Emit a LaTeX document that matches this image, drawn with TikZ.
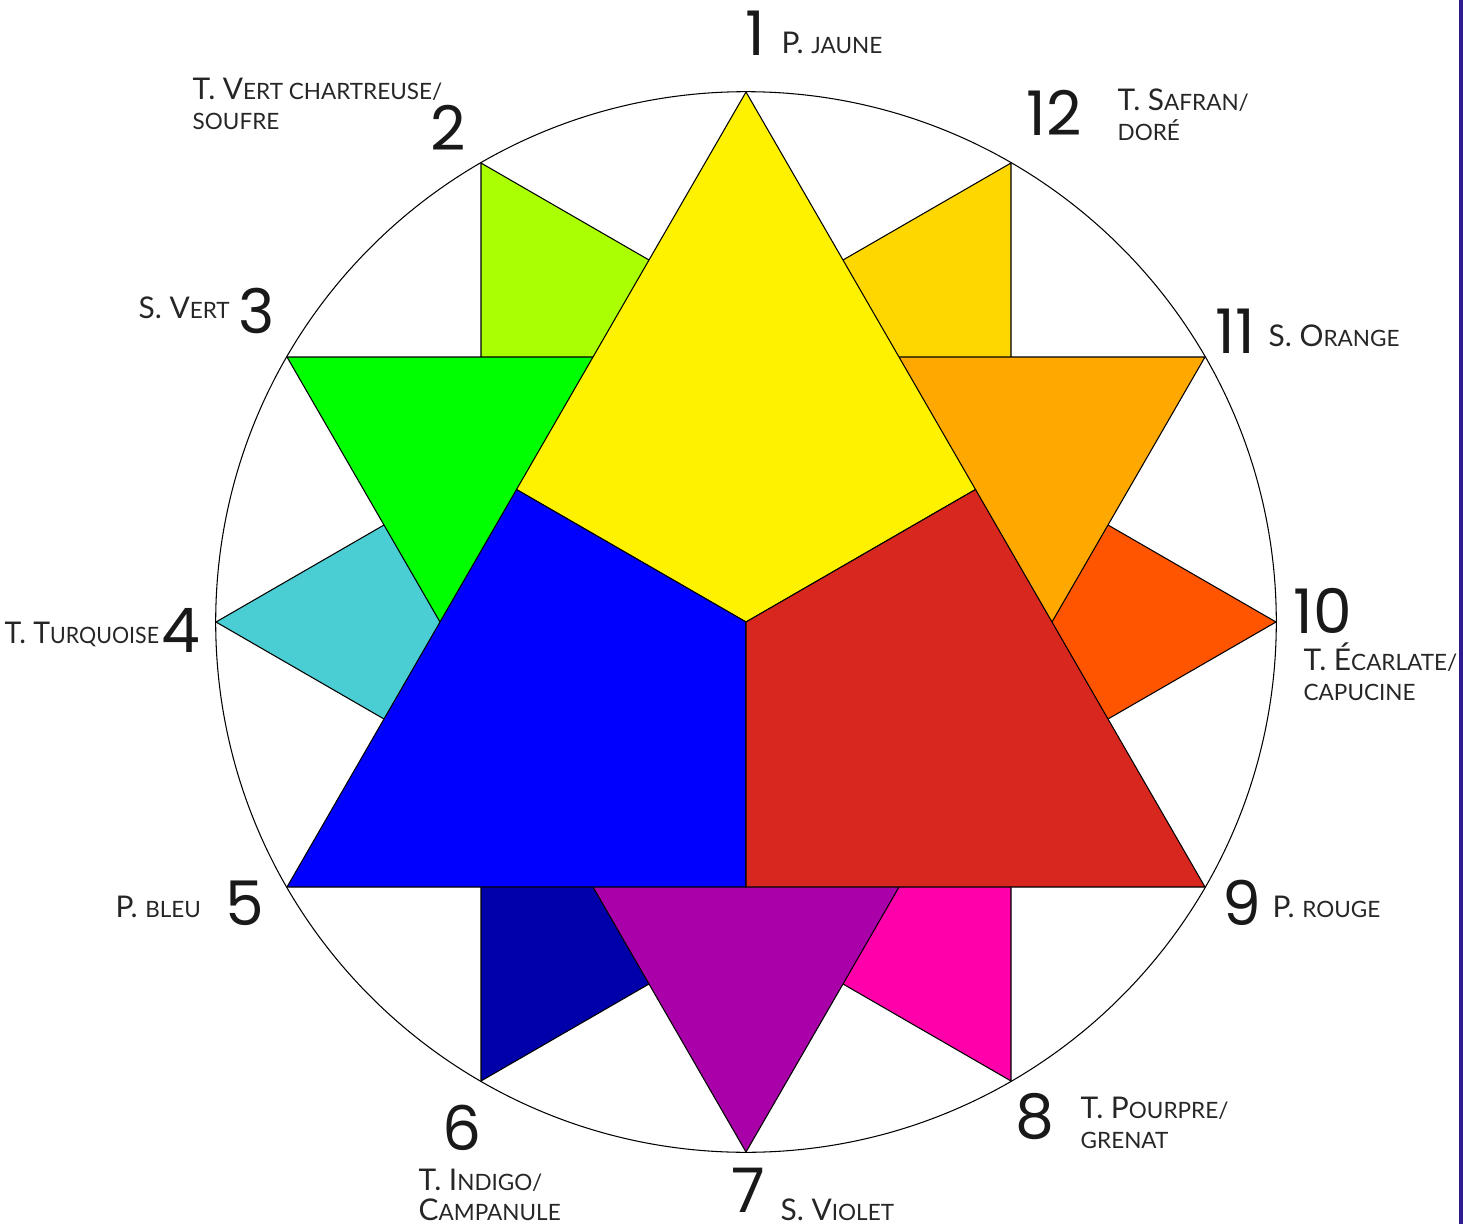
\documentclass[tikz,border=0pt]{standalone}
\usepackage{fontspec}
\setmainfont{Lato}
\newfontfamily\numfont{Poppins}
\usetikzlibrary{calc}
\definecolor{pjaune}{HTML}{FFF200}
\definecolor{pbleu}{HTML}{0000FF}
\definecolor{prouge}{HTML}{D8271F}
\definecolor{svert}{HTML}{00FF00}
\definecolor{sviolet}{HTML}{AA00AA}
\definecolor{sorange}{HTML}{FFA800}
\definecolor{tchartreuse}{HTML}{AAFF00}
\definecolor{tindigo}{HTML}{0000AA}
\definecolor{tecarlate}{HTML}{FF5500}
\definecolor{tturquoise}{HTML}{4BCDD4}
\definecolor{tpourpre}{HTML}{FF00AA}
\definecolor{tsafran}{HTML}{FFD700}
\definecolor{rulecol}{HTML}{2E1C8C}
\tikzset{
  piece/.style={draw=black, line width=0.3pt, line join=miter},
  rim/.style={draw=black, line width=0.3pt},
  num/.style={font=\numfont\fontsize{17.5}{18}\selectfont, text=black!90,
    inner sep=0pt, text depth=0pt, anchor=base},
  lab/.style={font=\fontsize{8.5}{8.25}\selectfont, text=black!85,
    inner sep=0pt, anchor=base west, align=left},
}
% small capitals, faked
\newcommand{\pc}[1]{{\fontsize{6.4}{6.4}\selectfont #1}}

\begin{document}
\begin{tikzpicture}[x=0.01cm,y=-0.01cm]
  \useasboundingbox (0,0) rectangle (1475,1224);
  % the wheel and its twelve points
  \coordinate (O) at (746,622);
  \foreach \k in {1,...,12}
    \coordinate (v\k) at ({746+530*cos(90+30*(\k-1))},{622-530*sin(90+30*(\k-1))});
  \draw[rim] (O) circle[radius=5.3cm];
  % tertiary, secondary, then primary triangles, each cut in three
  \foreach \a/\b/\c/\col in {2/6/10/tchartreuse, 6/10/2/tindigo, 10/2/6/tecarlate,
      4/8/12/tturquoise, 8/12/4/tpourpre, 12/4/8/tsafran,
      3/7/11/svert, 7/11/3/sviolet, 11/3/7/sorange,
      1/5/9/pjaune, 5/9/1/pbleu, 9/1/5/prouge}
    \filldraw[piece, fill=\col] (v\a) -- ($(v\a)!.5!(v\b)$) -- (O) -- ($(v\a)!.5!(v\c)$) -- cycle;
  % numbers
  \foreach \n/\x/\y in {1/755/55, 2/448/150, 3/257/333, 4/181/652, 5/245/925,
      6/462/1150, 7/748/1212, 8/1035/1138, 9/1242/925, 10/1323/633,
      11/1235/353, 12/1054/135}
    \node[num] (n\n) at (\x,\y) {\n};
  % names (two-line ones sit on their last line)
  \node[lab] (l1) at (781,54) {P. \pc{JAUNE}};
  \node[lab] (l2) at (192,129) {T. V\pc{ERT CHARTREUSE/}\\\pc{SOUFRE}};
  \node[lab] (l3) at (138,318) {S. V\pc{ERT}};
  \node[lab, xscale=0.95] (l4) at (4,643) {T. T\pc{URQUOISE}};
  \node[lab] (l5) at (115,917) {P. \pc{BLEU}};
  \node[lab] (l6) at (418,1220) {T. I\pc{NDIGO/}\\C\pc{AMPANULE}};
  \node[lab] (l7) at (780,1220) {S. V\pc{IOLET}};
  \node[lab] (l8) at (1080,1148) {T. P\pc{OURPRE/}\\\pc{GRENAT}};
  \node[lab] (l9) at (1272,917) {P. \pc{ROUGE}};
  \node[lab] (l10) at (1303,700) {T. É\pc{CARLATE/}\\\pc{CAPUCINE}};
  \node[lab] (l11) at (1268,346) {S. O\pc{RANGE}};
  \node[lab] (l12) at (1117,140) {T. S\pc{AFRAN/}\\\pc{DORÉ}};
  % margin rule
  \draw[rulecol, line width=1.4pt] (1461,0) -- (1461,1224);
\end{tikzpicture}
\end{document}
